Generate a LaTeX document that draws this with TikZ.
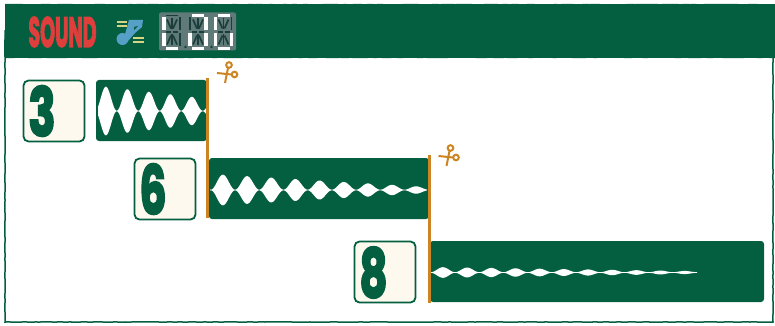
\documentclass[tikz,border=0pt]{standalone}
\usepackage{fontspec}
\usepackage{graphicx}
\setmainfont{Poppins}[BoldFeatures={FakeBold=3.5}]
\usetikzlibrary{positioning,calc,decorations.pathmorphing}
\definecolor{waveGreen}{RGB}{4, 95, 65}
\definecolor{cardBg}{RGB}{253, 249, 238}
\definecolor{cutOrange}{RGB}{205, 133, 35}
\definecolor{soundRed}{RGB}{222, 62, 60}
\definecolor{noteBlue}{RGB}{86, 160, 200}
\definecolor{noteYellow}{RGB}{216, 212, 132}
\definecolor{lcdGray}{RGB}{95, 122, 120}
\definecolor{lcdDim}{RGB}{28, 62, 58}
\tikzset{
    rough/.style={decorate,decoration={random steps,segment length=5pt,amplitude=.2pt}},
    wavebox/.style={rectangle,fill=waveGreen,rounded corners=3pt,inner sep=0pt,minimum height=61pt},
    numcard/.style={rectangle,draw=waveGreen,fill=cardBg,line width=1.8pt,rounded corners=5pt,
                    minimum width=61pt,minimum height=61pt,inner sep=0pt},
    numglyph/.style={text=waveGreen,inner sep=0pt,font=\bfseries},
    cutbar/.style={draw=cutOrange,line width=2.4pt},
    cutmark/.style={draw=cutOrange,line width=2pt},
    dimseg/.style={draw=lcdDim,line width=1.7pt},
    litseg/.style={draw=white,line width=3.2pt},
    scissoricon/.pic={
        \draw[cutmark] (0,-6) circle (2.8pt);
        \draw[cutmark] (5.5,3.5) circle (2.8pt);
        \draw[cutmark] (-12,2) -- (2.5,3.5);
        \draw[cutmark] (-4,12) -- (-1,-3);
    }
}
% white lobes of a sound wave: from, to, centre, first peak, period, height, fall per px
\newcommand{\wavelobes}[7]{
    \fill[white] plot[domain=#1:#2,samples=220] (\x,{#3-0.3-(#6-#7*(\x-#4))*cos((\x-#4)/#5*180)^2})
        -- plot[domain=#2:#1,samples=220] (\x,{#3+0.3+(#6-#7*(\x-#4))*cos((\x-#4)/#5*180)^2}) -- cycle;
}
% one alphanumeric display digit
\newcommand{\segdigit}[3]{
    \begin{scope}[shift={(#1,#2)}]
        \foreach \s/\p/\q in {a/{2,0}/{14,0},b/{16,2}/{16,15},c/{16,18}/{16,31},d/{2,33}/{14,33},
                              e/{0,18}/{0,31},f/{0,2}/{0,15},g/{2,16.5}/{7,16.5},h/{9,16.5}/{14,16.5},
                              i/{3,4}/{7,13},j/{8,3}/{8,14},k/{13,4}/{9,13},
                              l/{7,20}/{3,29},m/{8,19}/{8,30},n/{9,20}/{13,29}} {
            \coordinate (\s1) at (\p);
            \coordinate (\s2) at (\q);
            \draw[dimseg] (\s1) -- (\s2);
        }
        \foreach \s in {#3} {
            \draw[litseg] (\s1) -- (\s2);
        }
    \end{scope}
}

\begin{document}
\begin{tikzpicture}[x=1pt,y=-1pt]
        \useasboundingbox (0,0) rectangle (775,326);
        % Frame and header
        \draw[waveGreen,line width=1.5pt,rough] (5,30) -- (5,322) -- (773,322) -- (773,30);
        \fill[waveGreen,rough] (5,4) -- (775,4) -- (775,58) -- (5,58) -- cycle;
        \node[inner sep=0pt,text=soundRed,font=\bfseries] (title) at (62.5,32) {\resizebox{68pt}{30pt}{SOUND}};

        % Note icon
        \fill[noteBlue] (122.5,39) circle (6pt);
        \fill[noteBlue] (124,38) -- (129,20) -- (143,20) -- (142,27) -- (135,33) -- (128,41) -- cycle;
        \fill[waveGreen] (134,27) -- (138,26) -- (134,30) -- cycle;
        \foreach \y in {22,26} {
            \draw[noteYellow,line width=1.4pt] (117,\y) -- (127,\y);
        }
        \foreach \y in {38,42} {
            \draw[noteYellow,line width=1.4pt] (133,\y) -- (144,\y);
        }

        % Display
        \fill[lcdGray,rounded corners=2pt] (159,12.5) rectangle (236,50.5);
        \segdigit{164}{15.5}{f,e,d}
        \segdigit{190}{15.5}{a,b,e,c,d}
        \segdigit{215.5}{15.5}{a,f,e,c,d}
        \fill[lcdDim] (185.5,47) circle (1.4pt) (211.5,47) circle (1.4pt);

        % Cards
        \node[numcard] (cardthree) at (54,111) {};
        \node[numcard] (cardsix) at (165,189) {};
        \node[numcard] (cardeight) at (385,272) {};
        \node[numglyph] (three) at (42,111) {\resizebox{27pt}{50pt}{3}};
        \node[numglyph] (six) at (153,189) {\resizebox{27pt}{50pt}{6}};
        \node[numglyph] (eight) at (373.5,272.5) {\resizebox{28pt}{50pt}{8}};

        % Sound waves
        \node[wavebox,minimum width=111pt] (wavethree) at (151.5,110.5) {};
        \node[wavebox,minimum width=220pt] (wavesix) at (319,188.5) {};
        \node[wavebox,minimum width=334pt] (waveeight) at (597,271.5) {};
        \wavelobes{98}{206}{111}{106}{21.5}{24}{0.118}
        \wavelobes{210}{427}{190}{223}{24.2}{15}{0.06}
        \wavelobes{431}{697}{272.5}{443}{24.2}{5}{0.0155}

        % Cuts
        \coordinate (cutonetop) at (207.5,78);
        \coordinate (cutonebottom) at (207.5,218);
        \coordinate (cuttwotop) at (429.5,155);
        \coordinate (cuttwobottom) at (429.5,303);
        \draw[cutbar] (cutonetop) -- (cutonebottom);
        \draw[cutbar] (cuttwotop) -- (cuttwobottom);
        \pic at (229,71) {scissoricon};
        \pic at (450.5,154) {scissoricon};
    \end{tikzpicture}
\end{document}
